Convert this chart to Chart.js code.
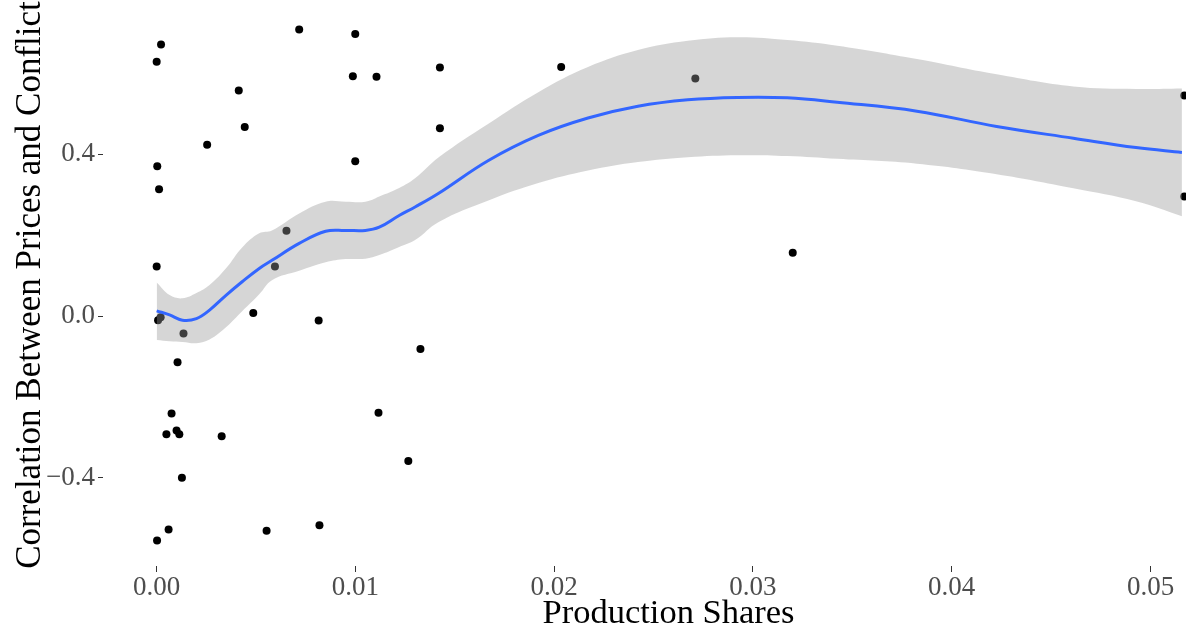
<!DOCTYPE html>
<html>
<head>
<meta charset="utf-8">
<script src="https://cdn.jsdelivr.net/npm/chart.js@4/dist/chart.umd.min.js"></script>
<style>
  html, body { margin: 0; padding: 0; background: #fff; overflow: hidden; }
  #wrap { width: 1186px; height: 635px; overflow: hidden; }
</style>
</head>
<body>
<div id="wrap"><canvas id="chart" width="1238" height="635"></canvas></div>
<script>
// observed countries: production share vs correlation
var shareX = [0.00022, 0.0, 0.00717, 0.00999, 0.00987, 0.01106, 0.00413, 0.00443, 0.00254, 0.00003,
              0.00999, 0.00012, 0.00653, 0.00595, 0.0, 0.00007, 0.00020, 0.00135, 0.00486, 0.00815,
              0.00105, 0.00075, 0.01116, 0.00049, 0.00100, 0.00114, 0.00327, 0.00127, 0.00060, 0.00002,
              0.00553, 0.00819, 0.01425, 0.01425, 0.02035, 0.01327, 0.01266, 0.0271, 0.0320, 0.0517, 0.0517];
var corrY = [0.672, 0.629, 0.709, 0.698, 0.593, 0.592, 0.558, 0.468, 0.424, 0.371,
             0.383, 0.314, 0.211, 0.123, 0.123, -0.010, -0.003, -0.043, 0.008, -0.011,
             -0.114, -0.241, -0.239, -0.292, -0.283, -0.292, -0.297, -0.400, -0.528, -0.555,
             -0.531, -0.517, 0.615, 0.465, 0.616, -0.081, -0.358, 0.588, 0.157, 0.546, 0.296];

// loess fit and its confidence band
var fitX = [0, 0.00065, 0.0013, 0.002, 0.00266, 0.0035, 0.0043, 0.00516, 0.0058, 0.00717,
            0.0085, 0.0095, 0.0105, 0.0112, 0.0122, 0.013, 0.01419, 0.01669, 0.0192, 0.0217,
            0.02421, 0.02672, 0.02922, 0.03173, 0.03424, 0.03825, 0.04226, 0.04612, 0.04927, 0.05158];
var fitY = [0.013, 0.003, -0.010, -0.006, 0.015, 0.052, 0.085, 0.118, 0.138, 0.180,
            0.210, 0.212, 0.212, 0.220, 0.249, 0.270, 0.304, 0.385, 0.447, 0.490,
            0.519, 0.535, 0.541, 0.540, 0.529, 0.507, 0.469, 0.440, 0.417, 0.405];
var fitUpper = [0.083, 0.052, 0.044, 0.057, 0.077, 0.119, 0.170, 0.205, 0.212, 0.254,
                0.283, 0.283, 0.283, 0.296, 0.317, 0.341, 0.393, 0.476, 0.554, 0.616,
                0.658, 0.681, 0.690, 0.683, 0.669, 0.636, 0.598, 0.568, 0.562, 0.563];
var fitLower = [-0.059, -0.062, -0.064, -0.067, -0.058, -0.027, 0.012, 0.054, 0.089, 0.112,
                0.133, 0.141, 0.142, 0.151, 0.171, 0.188, 0.233, 0.286, 0.329, 0.360,
                0.381, 0.393, 0.398, 0.396, 0.389, 0.377, 0.351, 0.316, 0.284, 0.247];

var xTicks = [0, 0.01, 0.02, 0.03, 0.04, 0.05];
var yTicks = [-0.4, 0.0, 0.4];

function pairs(xs, ys) {
  return xs.map(function (x, i) { return { x: x, y: ys[i] }; });
}

var serif = "'Liberation Serif', 'DejaVu Serif', serif";

new Chart(document.getElementById("chart"), {
  type: 'scatter',
  data: {
    datasets: [{
      type: 'line',
      data: pairs(fitX, fitY),
      borderColor: "#3366FF",
      borderWidth: 3,
      pointRadius: 0,
      fill: false,
      tension: 0.4,
      order: 0
    }, {
      type: 'line',
      data: pairs(fitX, fitUpper),
      borderColor: "rgba(0,0,0,0)",
      borderWidth: 0,
      pointRadius: 0,
      backgroundColor: "rgba(153,153,153,0.4)",
      fill: '+1',
      tension: 0.4,
      order: 1
    }, {
      type: 'line',
      data: pairs(fitX, fitLower),
      borderColor: "rgba(0,0,0,0)",
      borderWidth: 0,
      pointRadius: 0,
      fill: false,
      tension: 0.4,
      order: 2
    }, {
      data: pairs(shareX, corrY),
      backgroundColor: "#000000",
      borderWidth: 0,
      pointRadius: 4,
      order: 3
    }]
  },
  options: {
    responsive: false,
    animation: false,
    layout: { padding: { top: 3, right: 0, left: 0, bottom: 0 } },
    plugins: {
      legend: { display: false },
      tooltip: { enabled: false }
    },
    scales: {
      x: {
        type: 'linear',
        min: -0.0027,
        max: 0.0542,
        afterFit: function (s) {
          s.height = 69;
          s.paddingLeft = 0; s.paddingRight = 0;
        },
        afterBuildTicks: function (s) { s.ticks = xTicks.map(function (v) { return { value: v }; }); },
        grid: { drawOnChartArea: false, drawTicks: true, tickLength: 6, tickColor: "#333333" },
        border: { display: false },
        ticks: {
          color: "#4D4D4D",
          padding: 0,
          maxRotation: 0,
          font: { family: serif, size: 27 },
          callback: function (v) { return v.toFixed(2); }
        },
        title: {
          display: true,
          text: "Production Shares",
          color: "#000000",
          font: { family: serif, size: 34.5 },
          padding: { top: 0, bottom: 0 }
        }
      },
      y: {
        type: 'linear',
        min: -0.618,
        max: 0.772,
        afterFit: function (s) {
          s.width = 103;
          s.paddingTop = 0; s.paddingBottom = 0;
        },
        afterBuildTicks: function (s) { s.ticks = yTicks.map(function (v) { return { value: v }; }); },
        grid: { drawOnChartArea: false, drawTicks: true, tickLength: 5, tickColor: "#333333" },
        border: { display: false },
        ticks: {
          color: "#4D4D4D",
          padding: 3,
          font: { family: serif, size: 27 },
          callback: function (v) {
            var s = Math.abs(v).toFixed(1);
            return v < 0 ? "\u2212" + s : s;
          }
        },
        title: {
          display: true,
          text: "Correlation Between Prices and Conflict",
          color: "#000000",
          font: { family: serif, size: 35 },
          padding: { top: 10, bottom: 0 }
        }
      }
    }
  }
});
</script>
</body>
</html>
